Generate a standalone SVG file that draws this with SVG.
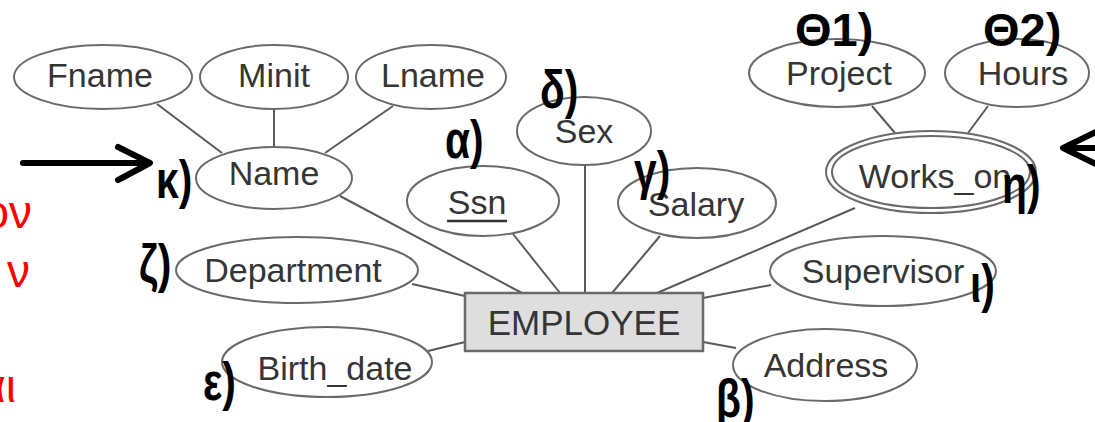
<svg xmlns="http://www.w3.org/2000/svg" width="1095" height="422" viewBox="0 0 1095 422">
<style>
.att ellipse{fill:#fff;stroke:#6a6a6a;stroke-width:2}
.t{font-family:"Liberation Sans",Arial,sans-serif;font-size:34px;fill:#353535;text-anchor:middle}
.con line{stroke:#5a5a5a;stroke-width:2}
.lbl{font-family:"Liberation Sans",Arial,sans-serif;font-weight:bold;font-size:47px;fill:#000}
.gl{font-family:"Liberation Sans",Arial,sans-serif;font-weight:bold;font-size:48px;fill:#000}
.red{font-family:"Liberation Sans",Arial,sans-serif;font-size:46px;fill:#ff0000;text-anchor:end}
.arr{stroke:#000;stroke-width:6;fill:none;stroke-linecap:round;stroke-linejoin:round}
</style>
<rect width="1095" height="422" fill="#fff"/>
<g id="connectors" class="con">
<line x1="157" y1="104" x2="222" y2="153"/>
<line x1="274" y1="109" x2="274" y2="147"/>
<line x1="393" y1="106" x2="325" y2="153"/>
<line x1="340" y1="196" x2="522" y2="293"/>
<line x1="513" y1="234" x2="560" y2="293"/>
<line x1="585" y1="165" x2="585" y2="293"/>
<line x1="660" y1="236" x2="612" y2="293"/>
<line x1="855" y1="208" x2="657" y2="293"/>
<line x1="412" y1="284" x2="465" y2="296"/>
<line x1="428" y1="351" x2="465" y2="342"/>
<line x1="771" y1="285" x2="703" y2="298"/>
<line x1="736" y1="348" x2="703" y2="342"/>
<line x1="872" y1="106" x2="895" y2="133"/>
<line x1="988" y1="106" x2="968" y2="133"/>
</g>
<g id="Fname" class="att"><ellipse cx="103" cy="77" rx="89" ry="32"/><text class="t" x="100" y="87">Fname</text></g>
<g id="Minit" class="att"><ellipse cx="274" cy="77" rx="74" ry="32"/><text class="t" x="274" y="87">Minit</text></g>
<g id="Lname" class="att"><ellipse cx="431" cy="77" rx="75" ry="32"/><text class="t" x="433" y="87">Lname</text></g>
<g id="Name" class="att"><ellipse cx="274" cy="178" rx="78" ry="31"/><text class="t" x="274" y="185">Name</text></g>
<g id="Sex" class="att"><ellipse cx="584" cy="131" rx="67" ry="34"/><text class="t" x="584" y="143">Sex</text></g>
<g id="Ssn" class="att"><ellipse cx="483" cy="201" rx="76" ry="35"/><text class="t" x="477" y="214">Ssn</text><line x1="447" y1="221" x2="507" y2="221" stroke="#353535" stroke-width="2.5"/></g>
<g id="Salary" class="att"><ellipse cx="697" cy="203" rx="79" ry="35"/><text class="t" x="696" y="216">Salary</text></g>
<g id="Works_on" class="att"><ellipse cx="931" cy="172" rx="105" ry="41"/><ellipse cx="931" cy="172" rx="99" ry="36"/><text class="t" x="935" y="188">Works_on</text></g>
<g id="Project" class="att"><ellipse cx="837" cy="73" rx="88" ry="34"/><text class="t" x="839" y="85">Project</text></g>
<g id="Hours" class="att"><ellipse cx="1017" cy="73" rx="72" ry="34"/><text class="t" x="1023" y="85">Hours</text></g>
<g id="Department" class="att"><ellipse cx="297" cy="270" rx="121" ry="33"/><text class="t" x="293" y="282">Department</text></g>
<g id="Supervisor" class="att"><ellipse cx="883" cy="271" rx="113" ry="35"/><text class="t" x="883" y="283">Supervisor</text></g>
<g id="Birth_date" class="att"><ellipse cx="327" cy="362" rx="105" ry="35"/><text class="t" x="335" y="380">Birth_date</text></g>
<g id="Address" class="att"><ellipse cx="825" cy="365" rx="92" ry="36"/><text class="t" x="826" y="377">Address</text></g>
<g id="EMPLOYEE"><rect x="465" y="293" width="238" height="58" fill="#dedede" stroke="#6a6a6a" stroke-width="2.5"/><text class="t" x="584" y="335" style="font-size:35px">EMPLOYEE</text></g>
<g id="labels">
<text class="lbl" x="795" y="46">Θ1)</text>
<text class="lbl" x="983" y="46">Θ2)</text>
<text class="gl" transform="translate(540,108) scale(0.85,1.12)">δ)</text>
<text class="gl" transform="translate(445,158) scale(0.85,1.12)">α)</text>
<text class="gl" transform="translate(634,189) scale(0.85,1.12)">γ)</text>
<text class="gl" transform="translate(156,198) scale(0.85,1.12)">κ)</text>
<text class="gl" transform="translate(139,282) scale(0.85,1.12)">ζ)</text>
<text class="gl" transform="translate(1002,203) scale(0.85,1.12)">η)</text>
<text class="gl" transform="translate(970,302) scale(0.85,1.12)">ι)</text>
<text class="gl" transform="translate(203,400) scale(0.85,1.12)">ε)</text>
<text class="gl" transform="translate(716,417) scale(0.85,1.12)">β)</text>
</g>
<g id="red-text">
<text class="red" x="32" y="228">ον</text>
<text class="red" x="30" y="287">ν</text>
<text class="red" x="16" y="402">αι</text>
</g>
<g id="arrows">
<path class="arr" d="M23 163 H148 M118 147 L150 163 L118 180"/>
<path class="arr" d="M1100 148 H1064 M1098 131 L1063 148 L1098 165"/>
</g>
</svg>
